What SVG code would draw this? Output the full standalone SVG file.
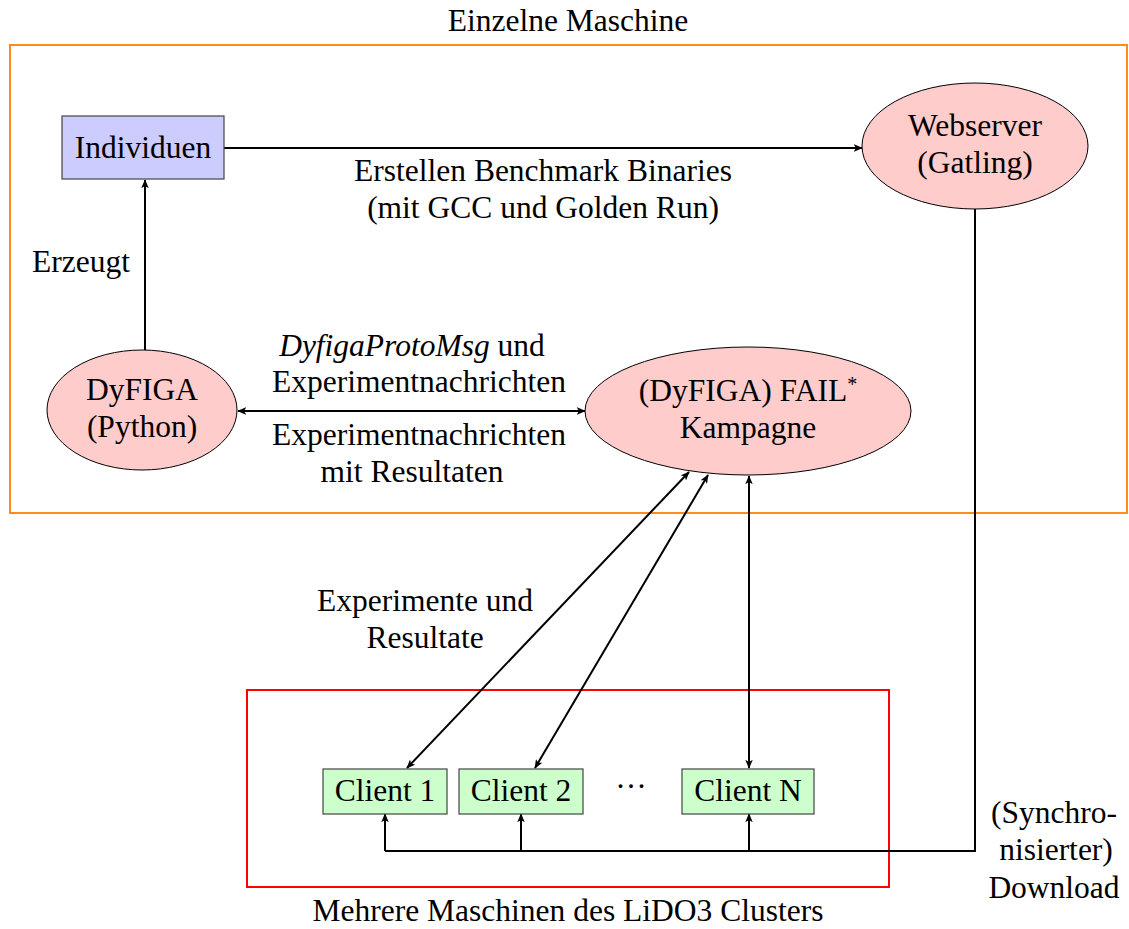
<svg xmlns="http://www.w3.org/2000/svg" width="1129" height="929" viewBox="0 0 1129 929">
  <style>
    text { font-family: "Liberation Serif", "Times New Roman", serif; font-size: 31.5px; fill: #000; text-anchor: middle; }
    .edge { fill: none; stroke: #000; stroke-width: 2; }
    .ell { fill: #ffcccc; stroke: #000; stroke-width: 1; }
    .box-blue { fill: #ccccff; stroke: #444; stroke-width: 1.2; }
    .box-green { fill: #ccffcc; stroke: #444; stroke-width: 1.2; }
  </style>
  <defs>
    <marker id="ah" viewBox="0 0 12 10" refX="11" refY="5" markerWidth="9" markerHeight="7.5" orient="auto-start-reverse" markerUnits="userSpaceOnUse">
      <path d="M0,0 L12,5 L0,10 L3,5 Z" fill="#000"/>
    </marker>
  </defs>

  <!-- frames -->
  <g id="frame-single">
    <rect x="10" y="45" width="1117" height="468" fill="none" stroke="#ff8c1a" stroke-width="2"/>
    <text x="568" y="31">Einzelne Maschine</text>
  </g>
  <g id="frame-cluster">
    <rect x="247" y="690" width="642" height="197" fill="none" stroke="#ff0000" stroke-width="2"/>
    <text x="568" y="921">Mehrere Maschinen des LiDO3 Clusters</text>
  </g>

  <!-- connectors -->
  <g id="connectors">
    <line class="edge" x1="224" y1="148" x2="862" y2="148" marker-end="url(#ah)"/>
    <line class="edge" x1="145" y1="350" x2="145" y2="180" marker-end="url(#ah)"/>
    <line class="edge" x1="238" y1="411" x2="585" y2="411" marker-start="url(#ah)" marker-end="url(#ah)"/>
    <line class="edge" x1="407" y1="768" x2="689" y2="472" marker-start="url(#ah)" marker-end="url(#ah)"/>
    <line class="edge" x1="535" y1="768" x2="708" y2="475" marker-start="url(#ah)" marker-end="url(#ah)"/>
    <line class="edge" x1="749" y1="768" x2="749" y2="476" marker-start="url(#ah)" marker-end="url(#ah)"/>
    <polyline class="edge" points="975,209 975,851 385,851"/>
    <line class="edge" x1="385" y1="851" x2="385" y2="814" marker-end="url(#ah)"/>
    <line class="edge" x1="521" y1="851" x2="521" y2="814" marker-end="url(#ah)"/>
    <line class="edge" x1="749" y1="851" x2="749" y2="814" marker-end="url(#ah)"/>

    <text x="543" y="181">Erstellen Benchmark Binaries</text>
    <text x="543" y="218">(mit GCC und Golden Run)</text>
    <text x="81" y="272">Erzeugt</text>
    <text x="412" y="356"><tspan font-style="italic">DyfigaProtoMsg</tspan> und</text>
    <text x="419" y="392">Experimentnachrichten</text>
    <text x="419" y="445">Experimentnachrichten</text>
    <text x="412" y="482">mit Resultaten</text>
    <text x="425" y="611">Experimente und</text>
    <text x="425" y="648">Resultate</text>
    <text x="1054" y="823">(Synchro-</text>
    <text x="1056" y="860">nisierter)</text>
    <text x="1054" y="898">Download</text>
  </g>

  <!-- nodes -->
  <g id="individuen">
    <rect class="box-blue" x="62" y="116" width="162" height="63"/>
    <text x="143" y="158">Individuen</text>
  </g>
  <g id="webserver">
    <ellipse class="ell" cx="975" cy="146" rx="113" ry="63"/>
    <text x="975" y="136">Webserver</text>
    <text x="975" y="173">(Gatling)</text>
  </g>
  <g id="dyfiga">
    <ellipse class="ell" cx="142" cy="410" rx="95" ry="60"/>
    <text x="142" y="400">DyFIGA</text>
    <text x="142" y="437">(Python)</text>
  </g>
  <g id="kampagne">
    <ellipse class="ell" cx="748" cy="411" rx="163" ry="64"/>
    <text x="748" y="401">(DyFIGA) FAIL<tspan font-size="20" dy="-10">*</tspan></text>
    <text x="748" y="438">Kampagne</text>
  </g>
  <g id="client1">
    <rect class="box-green" x="323" y="769" width="124" height="45"/>
    <text x="385" y="801">Client 1</text>
  </g>
  <g id="client2">
    <rect class="box-green" x="459" y="769" width="124" height="45"/>
    <text x="521" y="801">Client 2</text>
  </g>
  <g id="dots">
    <text x="631" y="797">···</text>
  </g>
  <g id="clientN">
    <rect class="box-green" x="682" y="769" width="132" height="45"/>
    <text x="748" y="801">Client N</text>
  </g>
</svg>
